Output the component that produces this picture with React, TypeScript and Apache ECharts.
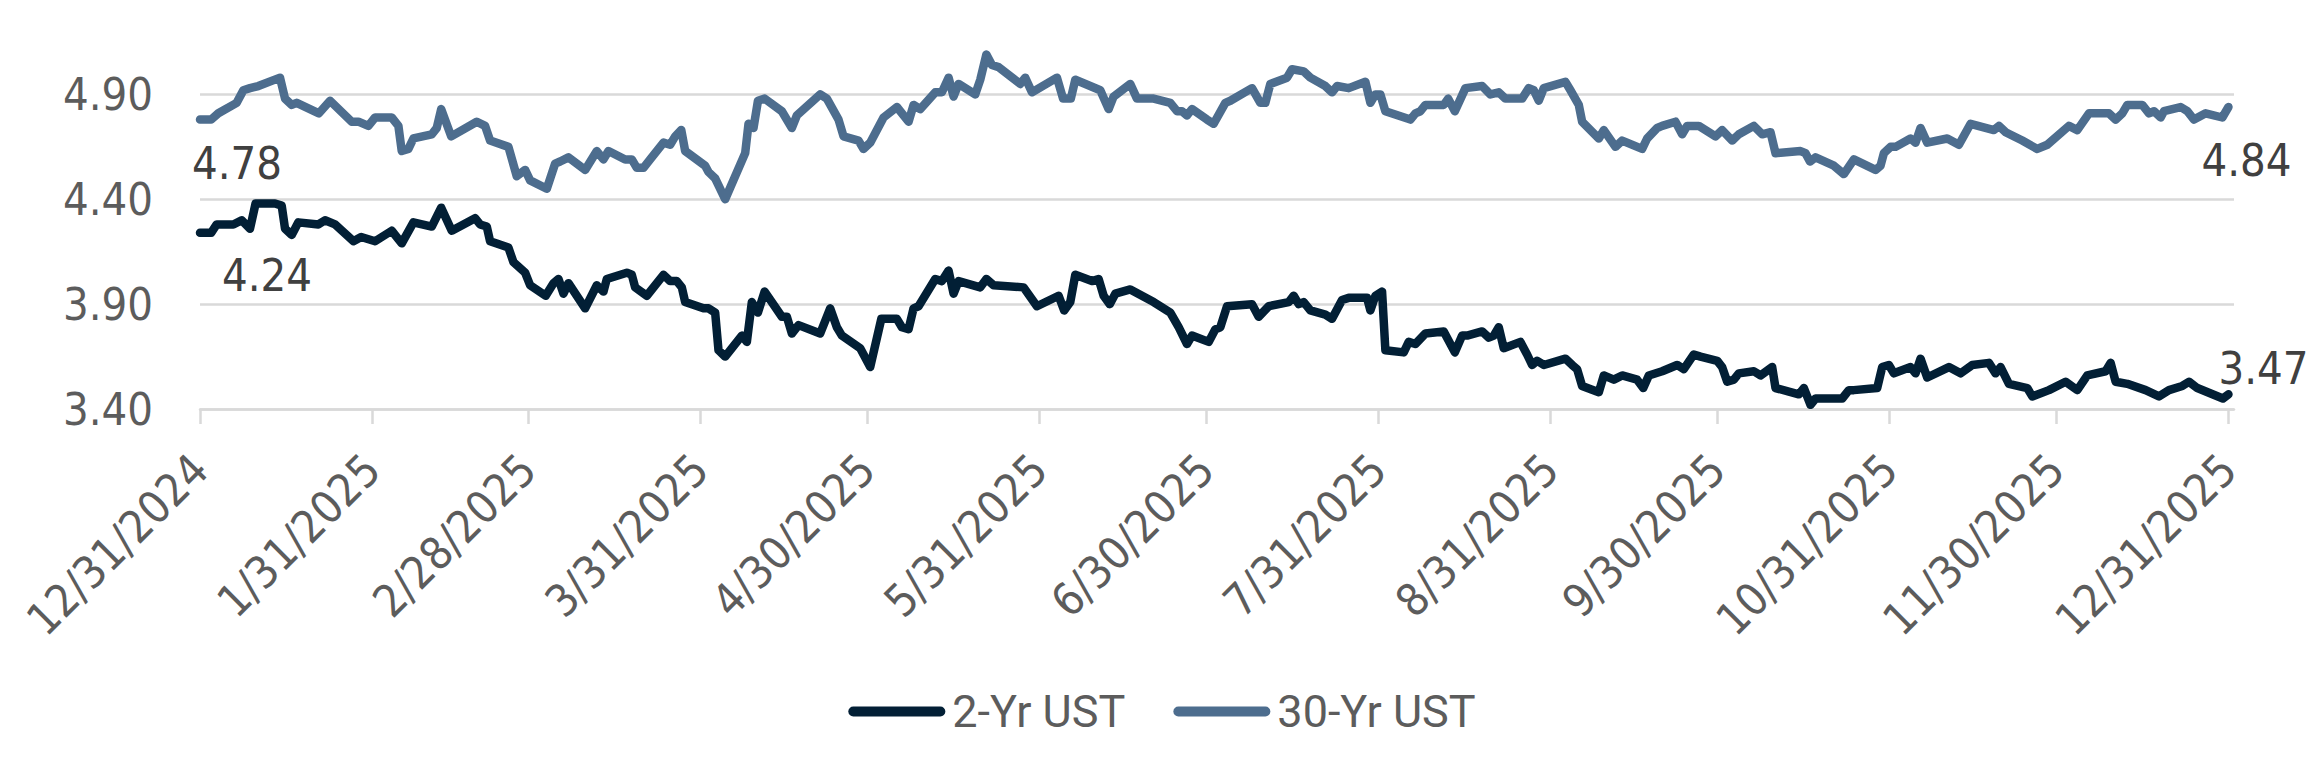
import { useEffect, useRef } from 'react';
import * as echarts from 'echarts';

// x = calendar days since 12/31/2024, y = yield (%)
const twoYrPoints: [number, number][] = [
  [0, 4.24], [2, 4.24], [3, 4.28], [6, 4.28], [7.5, 4.3], [9, 4.26], [10, 4.38], [13.5, 4.38],
  [14.7, 4.37], [15.3, 4.26], [16.5, 4.23], [17.7, 4.29], [21.3, 4.28], [22.5, 4.3], [24.3, 4.28],
  [27.6, 4.2], [29, 4.22], [31.5, 4.2], [34.5, 4.25], [36.3, 4.19], [38.4, 4.29], [41.7, 4.27],
  [43.4, 4.36], [45.3, 4.25], [49.5, 4.31], [50.4, 4.28], [51.6, 4.27], [52.2, 4.2], [55.5, 4.17],
  [56.4, 4.1], [58.5, 4.05], [59.4, 3.99], [62.2, 3.94], [63.6, 4.0], [64.5, 4.02], [65.4, 3.95],
  [66.3, 4.0], [69.3, 3.88], [71.4, 3.99], [72.6, 3.96], [73.2, 4.02], [76.8, 4.05], [77.7, 4.04],
  [78.3, 3.98], [80.4, 3.94], [83.4, 4.04], [84.6, 4.01], [85.8, 4.01], [86.7, 3.98], [87.3, 3.91],
  [90.6, 3.88], [91.5, 3.88], [92.7, 3.86], [93.3, 3.68], [94.5, 3.65], [97.5, 3.75], [98.4, 3.72],
  [99.3, 3.91], [100.4, 3.86], [101.6, 3.96], [104.7, 3.84], [105.6, 3.84], [106.5, 3.76],
  [107.7, 3.8], [111.6, 3.76], [113.4, 3.88], [114.6, 3.79], [115.5, 3.75], [118.8, 3.69],
  [120.6, 3.6], [122.6, 3.83], [125.4, 3.83], [126.3, 3.79], [127.5, 3.78], [128.4, 3.88],
  [129.3, 3.89], [132.3, 4.02], [133.5, 4.01], [134.7, 4.06], [135.6, 3.95], [136.5, 4.01],
  [140.4, 3.98], [141.5, 4.02], [142.8, 3.99], [148.2, 3.98], [150.6, 3.89], [154.5, 3.94],
  [155.5, 3.87], [156.6, 3.91], [157.5, 4.04], [160.5, 4.01], [161.7, 4.02], [162.6, 3.94],
  [163.7, 3.9], [164.7, 3.95], [167.4, 3.97], [171.6, 3.91], [174.6, 3.86], [176.1, 3.79],
  [177.6, 3.71], [178.5, 3.75], [181.5, 3.72], [182.7, 3.78], [183.6, 3.79], [184.8, 3.89],
  [189.3, 3.9], [190.5, 3.84], [192.3, 3.89], [195.9, 3.91], [196.8, 3.94], [197.7, 3.9],
  [198.6, 3.91], [199.8, 3.87], [202.5, 3.85], [203.7, 3.83], [205.5, 3.92], [206.7, 3.93],
  [210, 3.93], [210.6, 3.87], [211.5, 3.94], [212.7, 3.96], [213.3, 3.68], [216.6, 3.67],
  [217.5, 3.72], [218.7, 3.71], [220.5, 3.76], [223.8, 3.77], [225.8, 3.67], [227.1, 3.75],
  [228, 3.75], [230.7, 3.77], [231.9, 3.74], [232.8, 3.75], [233.7, 3.79], [234.6, 3.69],
  [237.6, 3.72], [238.8, 3.66], [239.7, 3.61], [240.6, 3.63], [241.8, 3.61], [245.7, 3.64],
  [246.9, 3.61], [247.8, 3.59], [248.7, 3.51], [251.7, 3.48], [252.6, 3.56], [254.4, 3.54],
  [255.9, 3.56], [258.6, 3.54], [259.7, 3.5], [260.7, 3.56], [263.1, 3.58], [265.8, 3.61],
  [267, 3.59], [268.8, 3.66], [270, 3.65], [273, 3.63], [273.9, 3.6], [274.8, 3.53], [276, 3.54],
  [276.9, 3.57], [279.6, 3.58], [280.8, 3.56], [282.9, 3.6], [283.5, 3.5], [287.7, 3.47],
  [288.6, 3.5], [289.8, 3.42], [290.7, 3.45], [295.5, 3.45], [296.7, 3.49], [297.6, 3.49],
  [301.8, 3.5], [302.7, 3.6], [303.9, 3.61], [304.8, 3.57], [307.8, 3.6], [308.7, 3.57],
  [309.6, 3.64], [310.8, 3.55], [314.7, 3.6], [316.8, 3.57], [318.9, 3.61], [321.9, 3.62],
  [323.1, 3.57], [324, 3.6], [325.5, 3.52], [328.8, 3.5], [329.7, 3.46], [332.7, 3.49],
  [335.7, 3.53], [337.8, 3.49], [339.6, 3.56], [342.9, 3.58], [343.8, 3.62], [344.7, 3.53],
  [346.8, 3.52], [350.1, 3.49], [352.5, 3.46], [354.3, 3.49], [356.7, 3.51], [357.9, 3.53],
  [359.4, 3.5], [364, 3.45], [365, 3.47],
];

const thirtyYrPoints: [number, number][] = [
  [0, 4.78], [2, 4.78], [3.3, 4.81], [6.6, 4.86], [7.8, 4.92], [9, 4.93], [10.5, 4.94], [14.4, 4.98],
  [15.3, 4.88], [16.5, 4.85], [17.4, 4.86], [21.4, 4.81], [23.4, 4.87], [27.3, 4.77], [28.5, 4.77],
  [30.3, 4.75], [31.5, 4.79], [34.5, 4.79], [35.7, 4.75], [36.3, 4.63], [37.5, 4.64], [38.4, 4.69],
  [41.7, 4.71], [42.6, 4.74], [43.4, 4.83], [45.2, 4.7], [49.8, 4.77], [51.3, 4.75], [52.2, 4.68],
  [55.5, 4.65], [57, 4.51], [58.5, 4.54], [59.4, 4.49], [62.4, 4.45], [63.9, 4.57], [64.8, 4.58],
  [66.3, 4.6], [69.3, 4.54], [71.4, 4.63], [72.6, 4.59], [73.5, 4.63], [76.5, 4.59], [77.7, 4.59],
  [78.6, 4.55], [79.8, 4.55], [81, 4.59], [83.4, 4.67], [84.6, 4.66], [85.5, 4.7], [86.6, 4.73],
  [87.3, 4.63], [90.9, 4.56], [91.5, 4.53], [92.7, 4.5], [94.5, 4.4], [98.1, 4.62], [98.7, 4.76],
  [99.6, 4.74], [100.4, 4.87], [101.6, 4.88], [104.7, 4.82], [106.5, 4.74], [107.4, 4.8],
  [111.6, 4.9], [112.8, 4.88], [114.9, 4.78], [115.8, 4.7], [118.5, 4.68], [119.4, 4.64],
  [120.6, 4.67], [122.4, 4.76], [123, 4.79], [125.4, 4.84], [127.5, 4.77], [128.4, 4.85],
  [129.6, 4.83], [132.3, 4.91], [133.5, 4.91], [134.7, 4.98], [135.6, 4.89], [136.5, 4.95],
  [139.5, 4.9], [140.4, 4.97], [141.5, 5.09], [142.5, 5.04], [143.7, 5.03], [147.6, 4.95],
  [148.5, 4.98], [149.7, 4.91], [154.2, 4.98], [155.3, 4.88], [156.7, 4.88], [157.5, 4.97],
  [162, 4.92], [163.5, 4.83], [164.4, 4.89], [167.4, 4.95], [168.6, 4.88], [171.6, 4.88],
  [174.6, 4.86], [175.8, 4.82], [176.7, 4.82], [177.6, 4.8], [178.5, 4.83], [181.2, 4.78],
  [182.4, 4.76], [184.5, 4.86], [185.4, 4.87], [189.3, 4.93], [190.8, 4.86], [191.7, 4.86],
  [192.6, 4.95], [195.6, 4.98], [196.5, 5.02], [198.6, 5.01], [199.8, 4.98], [202.5, 4.94],
  [203.7, 4.91], [204.6, 4.94], [206.7, 4.93], [209.7, 4.96], [210.6, 4.86], [211.5, 4.9],
  [212.4, 4.9], [213.3, 4.82], [217.8, 4.78], [218.7, 4.81], [219.6, 4.82], [220.5, 4.85],
  [223.8, 4.85], [224.6, 4.88], [225.8, 4.82], [227.7, 4.93], [230.7, 4.94], [232.2, 4.9],
  [233.7, 4.91], [234.9, 4.88], [237.9, 4.88], [239.1, 4.93], [240, 4.92], [240.9, 4.87],
  [241.8, 4.93], [245.7, 4.96], [246.6, 4.92], [248.1, 4.85], [248.7, 4.77], [251.7, 4.69],
  [252.6, 4.73], [254.7, 4.65], [255.9, 4.68], [259.5, 4.64], [260.4, 4.69], [262.2, 4.74],
  [263.1, 4.75], [265.5, 4.77], [266.7, 4.71], [267.6, 4.75], [269.7, 4.75], [272.7, 4.7],
  [273.9, 4.73], [275.7, 4.68], [276.9, 4.71], [279.6, 4.75], [281.1, 4.71], [282.6, 4.72],
  [283.5, 4.62], [288, 4.63], [288.9, 4.62], [289.7, 4.58], [290.7, 4.6], [294, 4.56],
  [295.8, 4.52], [297.6, 4.59], [301.5, 4.54], [302.4, 4.56], [303, 4.62], [304.2, 4.65],
  [305.1, 4.65], [307.8, 4.69], [308.7, 4.67], [309.6, 4.74], [310.8, 4.67], [314.4, 4.69],
  [316.5, 4.66], [318.6, 4.76], [322.8, 4.73], [323.7, 4.75], [324.9, 4.72], [327.9, 4.68],
  [330.6, 4.64], [332.4, 4.66], [336.3, 4.75], [337.8, 4.73], [339.9, 4.81], [343.5, 4.81],
  [344.7, 4.78], [345.9, 4.81], [346.8, 4.85], [349.5, 4.85], [350.7, 4.81], [351.6, 4.82],
  [352.8, 4.79], [353.4, 4.82], [356.4, 4.84], [357.6, 4.82], [358.8, 4.78], [360.9, 4.81],
  [363.9, 4.79], [365, 4.84],
];

// month-end ticks
const tickDays = [0, 31, 59, 90, 120, 151, 181, 212, 243, 273, 304, 334, 365];
const tickLabels = [
  '12/31/2024', '1/31/2025', '2/28/2025', '3/31/2025', '4/30/2025', '5/31/2025', '6/30/2025',
  '7/31/2025', '8/31/2025', '9/30/2025', '10/31/2025', '11/30/2025', '12/31/2025',
];
const yTicks = [3.4, 3.9, 4.4, 4.9];

const NAVY = '#021f35';
const STEEL = '#4d6d8e';
const GRID = '#d9d9d9';
const AXIS_TEXT = '#5c5c5c';
const LABEL_TEXT = '#404040';
const NUM_FONT = "'Liberation Sans Narrow', 'Arial Narrow', 'DejaVu Sans Condensed', sans-serif";

const endLabel = (point: [number, number], offset: number[]) => ({
  coord: point,
  value: point[1],
  label: { offset },
});

const App = () => {
  const chartRef = useRef<HTMLDivElement>(null);

  useEffect(() => {
    if (!chartRef.current) return;
    document.body.style.margin = '0';

    const chart = echarts.init(chartRef.current, null, { renderer: 'svg' });

    const markLabel = {
      show: true,
      position: 'inside',
      color: LABEL_TEXT,
      fontSize: 45,
      fontFamily: NUM_FONT,
      textBorderWidth: 0,
      formatter: (p: any) => Number(p.value).toFixed(2),
    };

    const option = {
      animation: false,
      backgroundColor: '#fff',
      grid: {
        left: 200,
        right: 90,
        top: 42,
        bottom: 369,
        outerBoundsMode: 'none',
      },
      xAxis: {
        type: 'value',
        min: 0,
        max: 366,
        splitLine: { show: false },
        axisLine: { onZero: false, lineStyle: { color: GRID, width: 2.5 } },
        axisTick: {
          customValues: tickDays,
          length: 15,
          lineStyle: { color: GRID, width: 2.5 },
        },
        axisLabel: {
          customValues: tickDays,
          rotate: 45,
          margin: 53,
          padding: [25, 0, 0, 0],
          color: AXIS_TEXT,
          fontSize: 45,
          fontFamily: NUM_FONT,
          formatter: (v: number) => tickLabels[tickDays.indexOf(v)] ?? '',
        },
      },
      yAxis: {
        type: 'value',
        min: yTicks[0],
        max: 5.15,
        interval: 0.5,
        axisLine: { show: false },
        axisTick: { show: false },
        splitLine: { showMaxLine: false, lineStyle: { color: GRID, width: 2.5 } },
        axisLabel: {
          showMaxLabel: false,
          margin: 47,
          color: AXIS_TEXT,
          fontSize: 45,
          fontFamily: NUM_FONT,
          formatter: (v: number) => v.toFixed(2),
        },
      },
      legend: {
        top: 684,
        left: 'center',
        icon: 'path://M5 0H92A5 5 0 0 1 92 10H5A5 5 0 0 1 5 0Z',
        itemWidth: 97,
        itemHeight: 10,
        itemGap: 48,
        textStyle: { color: AXIS_TEXT, fontSize: 45, fontFamily: 'Roboto', padding: [0, 0, 0, 2] },
        data: ['2-Yr UST', '30-Yr UST'],
      },
      series: [
        {
          name: '2-Yr UST',
          type: 'line',
          color: NAVY,
          symbol: 'none',
          lineStyle: { width: 8.5, color: NAVY, cap: 'round', join: 'round' },
          data: twoYrPoints,
          markPoint: {
            symbol: 'circle',
            symbolSize: 0,
            silent: true,
            label: markLabel,
            data: [
              endLabel(twoYrPoints[0], [67, 43]),
              endLabel(twoYrPoints[twoYrPoints.length - 1], [35, -26]),
            ],
          },
        },
        {
          name: '30-Yr UST',
          type: 'line',
          color: STEEL,
          symbol: 'none',
          lineStyle: { width: 8.5, color: STEEL, cap: 'round', join: 'round' },
          data: thirtyYrPoints,
          markPoint: {
            symbol: 'circle',
            symbolSize: 0,
            silent: true,
            label: markLabel,
            data: [
              endLabel(thirtyYrPoints[0], [37, 44]),
              endLabel(thirtyYrPoints[thirtyYrPoints.length - 1], [18, 53]),
            ],
          },
        },
      ],
    };

    chart.setOption(option);

    return () => {
      chart.dispose();
    };
  }, []);

  return <div ref={chartRef} style={{ width: '2324px', height: '778px' }} />;
};

export default App;
